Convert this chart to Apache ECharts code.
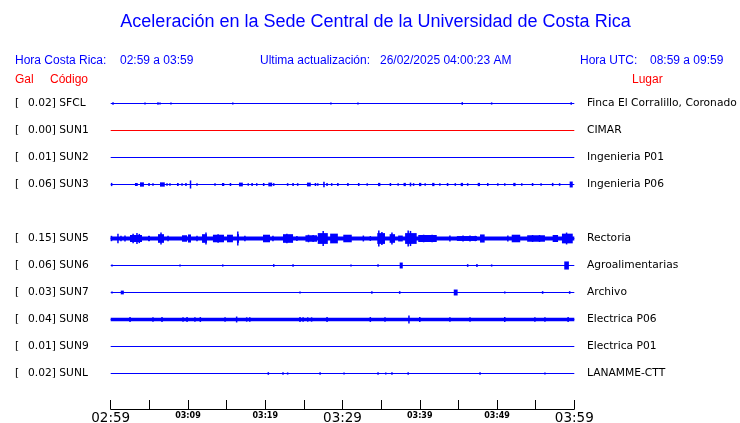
<!DOCTYPE html>
<html><head><meta charset="utf-8">
<script src="https://cdn.jsdelivr.net/npm/echarts@6/dist/echarts.min.js"></script>
<style>html,body{margin:0;padding:0;background:#fff}#c{width:740px;height:423px}</style>
</head><body><div id="c"></div>
<script>
// ---- data ----
const codes  = ['SFCL','SUN1','SUN2','SUN3','','SUN5','SUN6','SUN7','SUN8','SUN9','SUNL'];
const galMax = ['0.02','0.00','0.01','0.06','','0.15','0.06','0.03','0.04','0.01','0.02'];
const places = ['Finca El Corralillo, Coronado','CIMAR','Ingenieria P01','Ingenieria P06','','Rectoria','Agroalimentarias','Archivo','Electrica P06','Electrica P01','LANAMME-CTT'];
const tickLabels = ['02:59','03:09','03:19','03:29','03:39','03:49','03:59'];
// background noise half-amplitude (gal) per station
const noise = [0,0,0,0,null,0.037,0,0,0.032,0,0];
// events: [start minute, end minute, half amplitude in gal]
const evSFCL = [[0.3,0.3,0.025],[4.44,4.44,0.02],[6.12,6.12,0.025],[6.38,6.38,0.02],[7.8,7.8,0.02],[15.8,15.8,0.02],[28.5,28.5,0.02],[32.0,32.0,0.02],[45.5,45.5,0.025],[49.3,49.3,0.02],[59.6,59.6,0.025]];
const evSUN1 = [];
const evSUN2 = [];
const evSUN3 = [[0.04,0.2,0.03],[3.14,3.5,0.028],[3.79,4.3,0.04],[4.96,4.96,0.028],[5.47,5.47,0.025],[6.38,7.0,0.04],[7.29,7.29,0.025],[7.67,7.67,0.025],[8.58,8.8,0.028],[9.23,9.23,0.025],[9.74,9.74,0.03],[10.26,10.4,0.075],[11.17,11.17,0.025],[13.5,13.5,0.025],[14.4,14.7,0.028],[15.4,15.6,0.028],[16.6,17.1,0.035],[17.8,17.8,0.025],[18.2,18.4,0.028],[18.9,18.9,0.025],[19.7,19.9,0.028],[20.4,20.9,0.035],[21.1,21.1,0.025],[22.9,22.9,0.025],[23.5,23.7,0.028],[24.2,24.2,0.025],[25.4,25.9,0.035],[26.4,26.6,0.028],[26.8,26.8,0.025],[27.5,27.7,0.05],[28.0,28.0,0.03],[28.6,28.6,0.025],[29.3,29.5,0.028],[30.6,30.8,0.03],[32.0,32.2,0.028],[33.2,33.2,0.025],[34.6,34.9,0.03],[36.1,36.3,0.028],[37.2,37.2,0.025],[37.9,38.2,0.03],[38.7,38.9,0.035],[39.2,39.2,0.025],[39.9,40.2,0.03],[40.7,40.7,0.025],[41.6,41.9,0.03],[42.6,42.6,0.025],[43.5,43.7,0.028],[44.6,44.6,0.025],[45.3,45.6,0.03],[46.2,46.2,0.025],[47.5,47.8,0.03],[48.8,48.8,0.028],[50.0,50.2,0.025],[51.0,51.0,0.025],[52.1,52.4,0.03],[53.2,53.2,0.025],[54.5,54.7,0.028],[55.7,55.7,0.025],[57.1,57.3,0.03],[58.1,58.1,0.025],[59.4,59.8,0.055]];
const evSUN5 = [[0,0.2,0.05],[0.94,0.94,0.09],[1.33,1.33,0.05],[1.85,1.85,0.055],[2.5,4.05,0.065],[2.9,2.9,0.09],[3.4,3.4,0.1],[3.7,3.7,0.085],[4.83,5.09,0.05],[6.12,6.9,0.08],[6.51,6.51,0.11],[7.42,7.42,0.05],[9.23,9.88,0.06],[10.0,10.39,0.075],[11.17,11.17,0.05],[11.82,12.46,0.08],[12.33,12.33,0.11],[13.23,14.66,0.07],[13.9,13.9,0.08],[15.05,15.82,0.07],[16.34,16.6,0.08],[16.45,16.45,0.13],[17.37,17.37,0.05],[19.71,20.62,0.07],[21.0,21.0,0.05],[22.3,23.6,0.08],[22.8,22.8,0.09],[24.1,24.1,0.045],[25.2,26.7,0.06],[25.6,25.6,0.07],[26.2,26.2,0.065],[26.8,28.1,0.1],[27.5,27.5,0.14],[28.4,29.4,0.09],[30.1,31.2,0.07],[32.7,32.7,0.055],[33.6,33.6,0.045],[34.5,35.5,0.1],[34.7,34.7,0.15],[35.1,35.1,0.12],[36.1,36.8,0.08],[36.4,36.4,0.11],[37.2,37.8,0.055],[38.1,39.6,0.1],[38.5,38.5,0.15],[38.8,38.8,0.14],[39.8,42.2,0.065],[40.5,40.5,0.07],[41.6,41.6,0.07],[43.9,43.9,0.055],[44.8,47.4,0.045],[45.6,45.6,0.055],[46.5,46.5,0.055],[47.2,47.2,0.05],[47.8,48.4,0.075],[51.4,51.4,0.055],[51.9,53.0,0.07],[53.9,56.2,0.06],[54.6,54.6,0.065],[55.5,55.5,0.065],[57.2,57.9,0.065],[58.4,59.8,0.09],[59.0,59.0,0.11]];
const evSUN6 = [[0.17,0.17,0.02],[8.97,8.97,0.02],[14.5,14.5,0.02],[21.1,21.1,0.025],[23.6,23.6,0.025],[31.1,31.1,0.02],[34.6,34.6,0.025],[37.4,37.8,0.055],[46.2,46.2,0.025],[47.4,47.4,0.03],[49.3,49.3,0.02],[58.7,59.3,0.075]];
const evSUN7 = [[0.17,0.17,0.02],[1.3,1.7,0.035],[24.5,24.5,0.02],[33.8,33.8,0.025],[37.4,37.4,0.025],[44.4,44.9,0.055],[51.0,51.0,0.02],[55.9,55.9,0.025],[59.4,59.4,0.025]];
const evSUN8 = [[2.5,2.5,0.045],[5.47,5.47,0.04],[6.64,6.64,0.045],[9.36,9.36,0.04],[9.88,9.88,0.045],[10.9,10.9,0.04],[11.6,11.6,0.045],[14.8,14.8,0.04],[16.3,16.3,0.055],[17.6,17.6,0.04],[18.0,18.0,0.04],[24.5,24.5,0.045],[24.9,24.9,0.04],[25.5,25.5,0.04],[26.0,26.0,0.04],[28.0,28.0,0.045],[33.6,33.6,0.045],[35.5,35.5,0.04],[38.6,38.6,0.075],[40.0,40.0,0.045],[43.9,43.9,0.04],[46.5,46.5,0.04],[51.0,51.0,0.045],[54.9,54.9,0.04],[56.2,56.2,0.04],[59.2,59.2,0.045]];
const evSUN9 = [];
const evSUNL = [[20.4,20.4,0.025],[22.3,22.3,0.025],[22.9,22.9,0.02],[27.1,27.1,0.025],[30.2,30.2,0.02],[34.6,34.6,0.025],[35.6,35.6,0.02],[36.4,36.4,0.025],[38.5,38.5,0.025],[47.8,47.8,0.025],[56.2,56.2,0.02]];
const events = [evSFCL, evSUN1, evSUN2, evSUN3, null, evSUN5, evSUN6, evSUN7, evSUN8, evSUN9, evSUNL];

// ---- styling ----
const BLUE = '#0000ff', RED = '#ff0000';
const GAL_TO_ROW = 2;           // display scale: rows per gal
const colorOf = c => c === 'SUN1' ? RED : BLUE;
const LABEL_SIZE = 10.7;

const chart = echarts.init(document.getElementById('c'), null, {renderer: 'canvas'});

function renderEvent(params, api) {
  const t0 = api.value(0), t1 = api.value(1), a = api.value(2), row = api.value(3);
  const p0 = api.coord([t0, row]), p1 = api.coord([t1, row]);
  const h = Math.max(api.size([0, a * GAL_TO_ROW])[1], 0.5);
  let x = p0[0], w = p1[0] - p0[0];
  const minW = 1.5;
  if (w < minW) { x = (p0[0] + p1[0]) / 2 - minW / 2; w = minW; }
  return { type: 'rect', shape: { x: x, y: p0[1] - h, width: w, height: 2 * h },
           style: { fill: api.visual('color') } };
}

const series = [];
codes.forEach((c, row) => {
  if (!c) return;
  series.push({
    type: 'line', name: c + '-base', data: [[0, row], [60, row]], symbol: 'none',
    lineStyle: { color: colorOf(c), width: 1 }, silent: true, animation: false, z: 2
  });
  const items = [];
  if (noise[row]) items.push([0, 60, noise[row], row]);
  events[row].forEach(e => items.push([e[0], e[1], e[2], row]));
  if (items.length) series.push({
    type: 'custom', name: c, data: items, renderItem: renderEvent,
    encode: { x: [0, 1], y: 3 }, itemStyle: { color: colorOf(c) }, animation: false, z: 3
  });
});

const fontMain = 'Liberation Sans';
function txt(x, y, s, color, size, align) {
  return { type: 'text', x: x, y: y, style: { text: s, fill: color, font: size + 'px "' + fontMain + '"',
           textAlign: align || 'left', textVerticalAlign: 'middle' } };
}

chart.setOption({
  animation: false,
  backgroundColor: '#fff',
  grid: { left: 110.7, right: 165.7, top: 103.5, bottom: 49.5, containLabel: false, outerBoundsMode: 'none' },
  xAxis: {
    type: 'value', min: 0, max: 60, interval: 5, offset: 35.5, position: 'bottom',
    axisLine: { onZero: false, lineStyle: { color: '#000', width: 1 } },
    axisTick: { inside: true, length: 9, lineStyle: { color: '#000' } },
    splitLine: { show: false },
    axisLabel: {
      margin: 2, showMinLabel: true, showMaxLabel: true, hideOverlap: false,
      formatter: v => {
        if (v % 10 !== 0) return '';
        const s = tickLabels[v / 10];
        return v % 30 === 0 ? '{big|' + s + '}' : '{small|' + s + '}';
      },
      rich: {
        big: { fontFamily: 'DejaVu Sans', fontSize: 13.5, color: '#000', lineHeight: 14 },
        small: { fontFamily: 'DejaVu Sans', fontSize: 8, fontWeight: 'bold', color: '#000', lineHeight: 9, padding: [1,0,0,0] }
      }
    }
  },
  yAxis: [{
    type: 'value', min: 0, max: 10, interval: 1, inverse: true, position: 'left',
    axisLine: { show: false }, axisTick: { show: false }, splitLine: { show: false },
    axisLabel: {
      align: 'left', margin: 95.7,
      formatter: v => codes[v] ? '{b|[}{v|' + galMax[v] + ']} {c|' + codes[v] + '}' : '',
      rich: {
        b: { width: 13, fontFamily: 'DejaVu Sans', fontSize: LABEL_SIZE, color: '#000' },
        v: { fontFamily: 'DejaVu Sans', fontSize: LABEL_SIZE, color: '#000' },
        c: { fontFamily: 'DejaVu Sans', fontSize: LABEL_SIZE, color: '#000' }
      }
    }
  }, {
    type: 'value', min: 0, max: 10, interval: 1, inverse: true, position: 'right',
    axisLine: { show: false }, axisTick: { show: false }, splitLine: { show: false },
    axisLabel: {
      align: 'left', margin: 12.7, fontFamily: 'DejaVu Sans', fontSize: LABEL_SIZE, color: '#000',
      formatter: v => places[v] || ''
    }
  }],
  graphic: [
    txt(375.5, 22.5, 'Aceleración en la Sede Central de la Universidad de Costa Rica', BLUE, 18, 'center'),
    txt(15, 60.5, 'Hora Costa Rica:', BLUE, 12),
    txt(120, 60.5, '02:59 a 03:59', BLUE, 12),
    txt(260, 60.5, 'Ultima actualización:', BLUE, 12),
    txt(380, 60.5, '26/02/2025 04:00:23 AM', BLUE, 12),
    txt(580, 60.5, 'Hora UTC:', BLUE, 12),
    txt(650, 60.5, '08:59 a 09:59', BLUE, 12),
    txt(15, 80, 'Gal', RED, 12),
    txt(50, 80, 'Código', RED, 12),
    txt(632, 80, 'Lugar', RED, 12)
  ],
  series: series
});
</script>
</body></html>
